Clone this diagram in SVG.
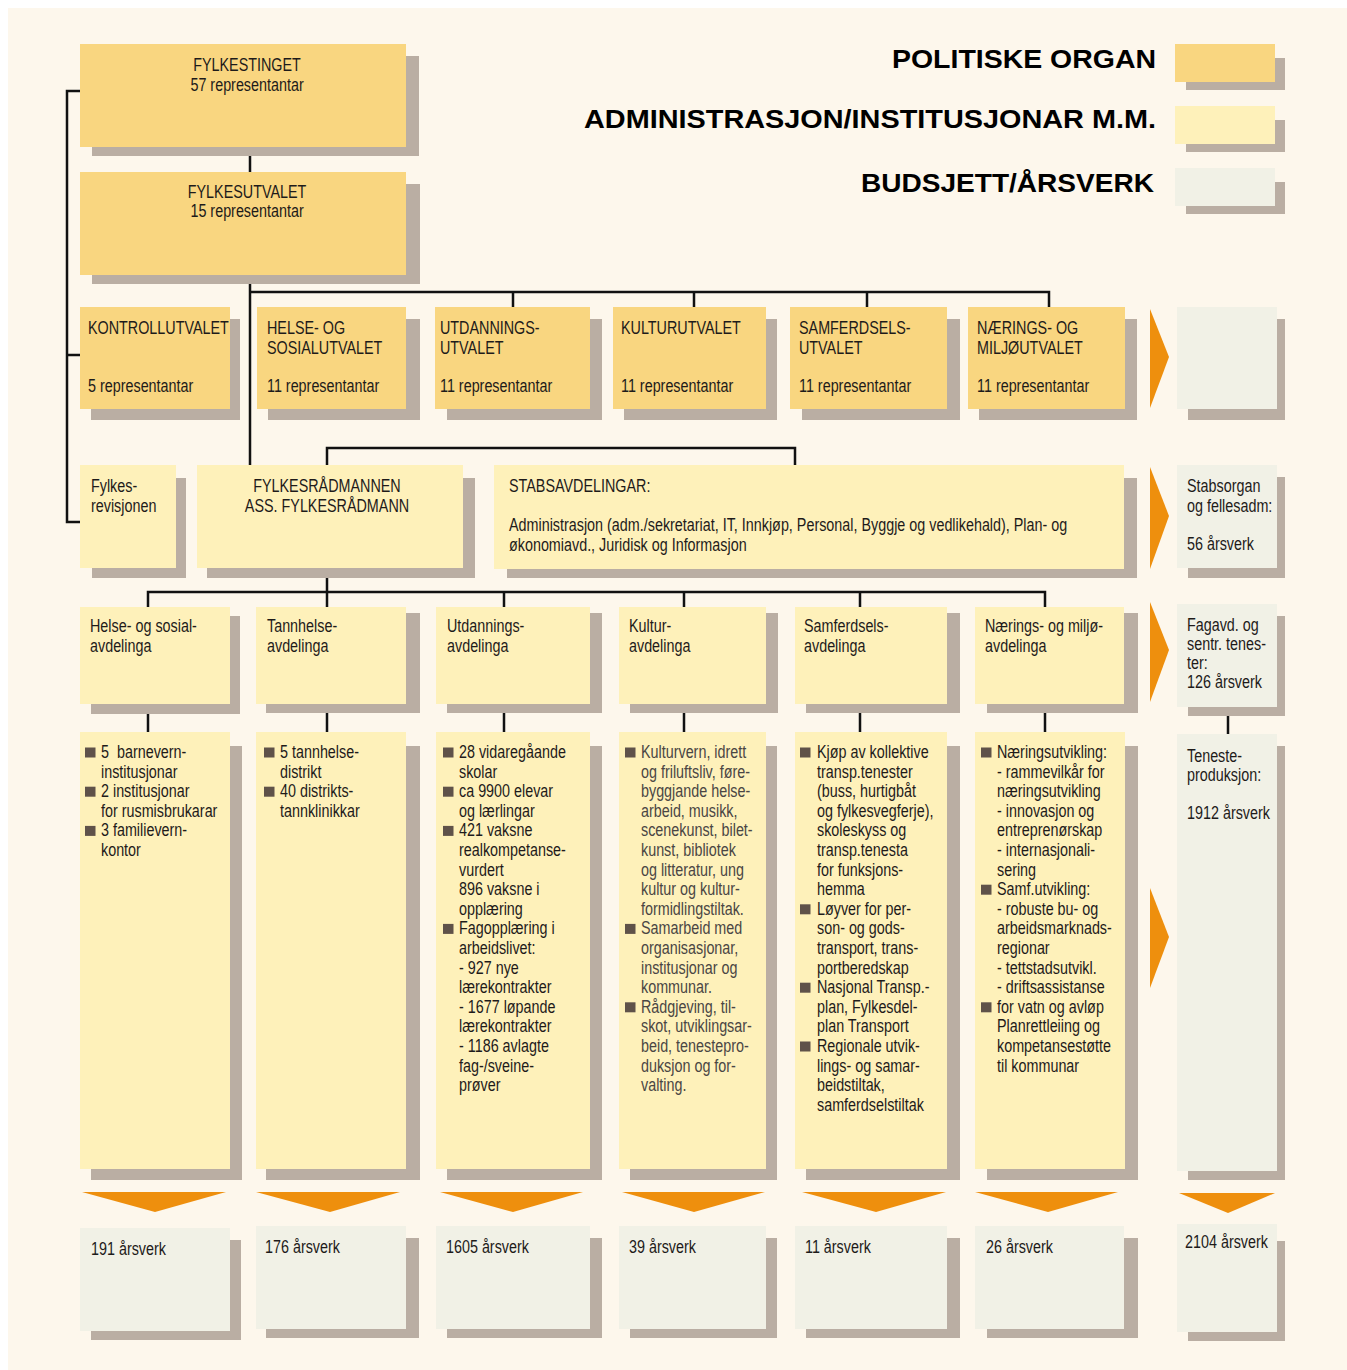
<svg xmlns="http://www.w3.org/2000/svg" width="1347" height="1370" viewBox="0 0 1347 1370">
<defs>
<style>
.bg{fill:#FDF7EC}
.sh{fill:#BAAEA3}
.pol{fill:#F9D680}
.adm{fill:#FEF1BA}
.bud{fill:#F1F1E6}
.arr{fill:#EE8F0D}
.bul{fill:#5F5249}
.ln{fill:none;stroke:#111;stroke-width:2.5}
text{font-family:'Liberation Sans',Arial,sans-serif;font-size:17.5px;fill:#1E1B1A;transform:scaleX(0.82);transform-box:fill-box;transform-origin:left center}
.c{text-anchor:middle;transform-origin:center center}
.g{fill:#4A4644}
.leg{font-family:'Liberation Sans',Arial,sans-serif;font-weight:bold;font-size:26px;fill:#000;transform:none}
</style>
</defs>
<rect x="0" y="0" width="1347" height="1370" fill="#FFFFFF"/>
<rect class="bg" x="8" y="8" width="1339" height="1362"/>

<g id="legend">
<text class="leg" x="892" y="68" textLength="264" lengthAdjust="spacingAndGlyphs">POLITISKE ORGAN</text>
<text class="leg" x="584" y="128" textLength="572" lengthAdjust="spacingAndGlyphs">ADMINISTRASJON/INSTITUSJONAR M.M.</text>
<text class="leg" x="861" y="192" textLength="293" lengthAdjust="spacingAndGlyphs">BUDSJETT/ÅRSVERK</text>
<rect class="sh" x="1186" y="58" width="99" height="32"/>
<rect class="pol" x="1175" y="44" width="100" height="38"/>
<rect class="sh" x="1186" y="120" width="99" height="32"/>
<rect class="adm" x="1175" y="106" width="100" height="38"/>
<rect class="sh" x="1186" y="182" width="99" height="32"/>
<rect class="bud" x="1175" y="168" width="100" height="38"/>
</g>

<g id="connectors">
<path class="ln" d="M80,91 H67 V522 H80 M67,355 H80"/>
<path class="ln" d="M250,147 V172 M250,275 V465"/>
<path class="ln" d="M250,292 H1049 V307 M513,292 V307 M694,292 V307 M867,292 V307"/>
<path class="ln" d="M327,465 V448 H795 V465"/>
<path class="ln" d="M327,568 V607 M148,607 V592 H1045 V607 M504,592 V607 M684,592 V607 M860,592 V607"/>
<path class="ln" d="M148,704 V732 M327,704 V732 M504,704 V732 M684,704 V732 M860,704 V732 M1045,704 V732 M1228,707 V734"/>
</g>

<g id="fylkestinget">
<rect class="sh" x="92" y="56" width="327" height="100"/>
<rect class="pol" x="80" y="44" width="326" height="103"/>
<text class="c" x="247" y="71">FYLKESTINGET</text>
<text class="c" x="247" y="91">57 representantar</text>
</g>
<g id="fylkesutvalet">
<rect class="sh" x="92" y="184" width="328" height="100"/>
<rect class="pol" x="80" y="172" width="326" height="103"/>
<text class="c" x="247" y="198">FYLKESUTVALET</text>
<text class="c" x="247" y="217">15 representantar</text>
</g>

<g id="kontrollutvalet">
<rect class="sh" x="91" y="319" width="149" height="101"/>
<rect class="pol" x="80" y="307" width="150" height="102"/>
<text x="88" y="334">KONTROLLUTVALET</text>
<text x="88" y="392">5 representantar</text>
</g>
<g id="helseutvalet">
<rect class="sh" x="268" y="319" width="152" height="101"/>
<rect class="pol" x="257" y="307" width="149" height="102"/>
<text x="267" y="334">HELSE- OG</text>
<text x="267" y="354">SOSIALUTVALET</text>
<text x="267" y="392">11 representantar</text>
</g>
<g id="utdanningsutvalet">
<rect class="sh" x="447" y="319" width="155" height="101"/>
<rect class="pol" x="435" y="307" width="155" height="102"/>
<text x="440" y="334">UTDANNINGS-</text>
<text x="440" y="354">UTVALET</text>
<text x="440" y="392">11 representantar</text>
</g>
<g id="kulturutvalet">
<rect class="sh" x="624" y="319" width="153" height="101"/>
<rect class="pol" x="613" y="307" width="153" height="102"/>
<text x="621" y="334">KULTURUTVALET</text>
<text x="621" y="392">11 representantar</text>
</g>
<g id="samferdselsutvalet">
<rect class="sh" x="802" y="319" width="158" height="101"/>
<rect class="pol" x="790" y="307" width="157" height="102"/>
<text x="799" y="334">SAMFERDSELS-</text>
<text x="799" y="354">UTVALET</text>
<text x="799" y="392">11 representantar</text>
</g>
<g id="naeringsutvalet">
<rect class="sh" x="979" y="319" width="158" height="101"/>
<rect class="pol" x="968" y="307" width="157" height="102"/>
<text x="977" y="334">NÆRINGS- OG</text>
<text x="977" y="354">MILJØUTVALET</text>
<text x="977" y="392">11 representantar</text>
</g>
<g id="budsjett-politisk">
<rect class="sh" x="1188" y="319" width="97" height="101"/>
<rect class="bud" x="1177" y="307" width="100" height="102"/>
</g>

<g id="fylkesrevisjonen">
<rect class="sh" x="92" y="478" width="94" height="100"/>
<rect class="adm" x="80" y="465" width="96" height="103"/>
<text x="91" y="492">Fylkes-</text>
<text x="91" y="512">revisjonen</text>
</g>
<g id="fylkesradmannen">
<rect class="sh" x="207" y="478" width="268" height="100"/>
<rect class="adm" x="197" y="465" width="266" height="103"/>
<text class="c" x="327" y="492">FYLKESRÅDMANNEN</text>
<text class="c" x="327" y="512">ASS. FYLKESRÅDMANN</text>
</g>
<g id="stabsavdelingar">
<rect class="sh" x="507" y="478" width="630" height="100"/>
<rect class="adm" x="494" y="465" width="630" height="104"/>
<text x="509" y="492">STABSAVDELINGAR:</text>
<text x="509" y="531">Administrasjon (adm./sekretariat, IT, Innkjøp, Personal, Byggje og vedlikehald), Plan- og</text>
<text x="509" y="551">økonomiavd., Juridisk og Informasjon</text>
</g>
<g id="stabsorgan">
<rect class="sh" x="1188" y="477" width="97" height="101"/>
<rect class="bud" x="1177" y="465" width="100" height="103"/>
<text x="1187" y="492">Stabsorgan</text>
<text x="1187" y="512">og fellesadm:</text>
<text x="1187" y="550">56 årsverk</text>
</g>

<g id="dept-helse">
<rect class="sh" x="91" y="616" width="149" height="98"/>
<rect class="adm" x="80" y="607" width="150" height="97"/>
<text x="90" y="632">Helse- og sosial-</text>
<text x="90" y="652">avdelinga</text>
</g>
<g id="dept-tannhelse">
<rect class="sh" x="266" y="613" width="154" height="100"/>
<rect class="adm" x="256" y="607" width="150" height="97"/>
<text x="267" y="632">Tannhelse-</text>
<text x="267" y="652">avdelinga</text>
</g>
<g id="dept-utdanning">
<rect class="sh" x="447" y="613" width="155" height="100"/>
<rect class="adm" x="436" y="607" width="154" height="97"/>
<text x="447" y="632">Utdannings-</text>
<text x="447" y="652">avdelinga</text>
</g>
<g id="dept-kultur">
<rect class="sh" x="630" y="613" width="148" height="100"/>
<rect class="adm" x="619" y="607" width="147" height="97"/>
<text x="629" y="632">Kultur-</text>
<text x="629" y="652">avdelinga</text>
</g>
<g id="dept-samferdsel">
<rect class="sh" x="806" y="613" width="154" height="100"/>
<rect class="adm" x="795" y="607" width="152" height="97"/>
<text x="804" y="632">Samferdsels-</text>
<text x="804" y="652">avdelinga</text>
</g>
<g id="dept-naering">
<rect class="sh" x="987" y="613" width="151" height="100"/>
<rect class="adm" x="975" y="607" width="149" height="97"/>
<text x="985" y="632">Nærings- og miljø-</text>
<text x="985" y="652">avdelinga</text>
</g>
<g id="fagavd">
<rect class="sh" x="1188" y="616" width="97" height="100"/>
<rect class="bud" x="1177" y="604" width="100" height="103"/>
<text x="1187" y="631">Fagavd. og</text>
<text x="1187" y="650">sentr. tenes-</text>
<text x="1187" y="669">ter:</text>
<text x="1187" y="688">126 årsverk</text>
</g>

<g id="detail-helse">
<rect class="sh" x="91" y="746" width="151" height="434"/>
<rect class="adm" x="80" y="732" width="150" height="437"/>
<rect class="bul" x="85" y="747.5" width="10.5" height="10"/>
<rect class="bul" x="85" y="786.7" width="10.5" height="10"/>
<rect class="bul" x="85" y="825.9" width="10.5" height="10"/>
<text x="101" y="758">5&#160; barnevern-<tspan x="101" y="777.6">institusjonar</tspan><tspan x="101" y="797.2">2 institusjonar</tspan><tspan x="101" y="816.8">for rusmisbrukarar</tspan><tspan x="101" y="836.4">3 familievern-</tspan><tspan x="101" y="856">kontor</tspan></text>
</g>
<g id="detail-tannhelse">
<rect class="sh" x="266" y="746" width="154" height="434"/>
<rect class="adm" x="256" y="732" width="150" height="437"/>
<rect class="bul" x="264" y="747.5" width="10.5" height="10"/>
<rect class="bul" x="264" y="786.7" width="10.5" height="10"/>
<text x="280" y="758">5 tannhelse-<tspan x="280" y="777.6">distrikt</tspan><tspan x="280" y="797.2">40 distrikts-</tspan><tspan x="280" y="816.8">tannklinikkar</tspan></text>
</g>
<g id="detail-utdanning">
<rect class="sh" x="447" y="746" width="155" height="434"/>
<rect class="adm" x="436" y="732" width="154" height="437"/>
<rect class="bul" x="443" y="747.5" width="10.5" height="10"/>
<rect class="bul" x="443" y="786.7" width="10.5" height="10"/>
<rect class="bul" x="443" y="825.9" width="10.5" height="10"/>
<rect class="bul" x="443" y="923.9" width="10.5" height="10"/>
<text x="459" y="758">28 vidaregåande<tspan x="459" y="777.6">skolar</tspan><tspan x="459" y="797.2">ca 9900 elevar</tspan><tspan x="459" y="816.8">og lærlingar</tspan><tspan x="459" y="836.4">421 vaksne</tspan><tspan x="459" y="856">realkompetanse-</tspan><tspan x="459" y="875.6">vurdert</tspan><tspan x="459" y="895.2">896 vaksne i</tspan><tspan x="459" y="914.8">opplæring</tspan><tspan x="459" y="934.4">Fagopplæring i</tspan><tspan x="459" y="954">arbeidslivet:</tspan><tspan x="459" y="973.6">- 927 nye</tspan><tspan x="459" y="993.2">lærekontrakter</tspan><tspan x="459" y="1012.8">- 1677 løpande</tspan><tspan x="459" y="1032.4">lærekontrakter</tspan><tspan x="459" y="1052">- 1186 avlagte</tspan><tspan x="459" y="1071.6">fag-/sveine-</tspan><tspan x="459" y="1091.2">prøver</tspan></text>
</g>
<g id="detail-kultur">
<rect class="sh" x="630" y="746" width="147" height="434"/>
<rect class="adm" x="619" y="732" width="147" height="437"/>
<rect class="bul" x="625" y="747.5" width="10.5" height="10"/>
<rect class="bul" x="625" y="923.9" width="10.5" height="10"/>
<rect class="bul" x="625" y="1002.3" width="10.5" height="10"/>
<text class="g" x="641" y="758">Kulturvern, idrett<tspan x="641" y="777.6">og friluftsliv, føre-</tspan><tspan x="641" y="797.2">byggjande helse-</tspan><tspan x="641" y="816.8">arbeid, musikk,</tspan><tspan x="641" y="836.4">scenekunst, bilet-</tspan><tspan x="641" y="856">kunst, bibliotek</tspan><tspan x="641" y="875.6">og litteratur, ung</tspan><tspan x="641" y="895.2">kultur og kultur-</tspan><tspan x="641" y="914.8">formidlingstiltak.</tspan><tspan x="641" y="934.4">Samarbeid med</tspan><tspan x="641" y="954">organisasjonar,</tspan><tspan x="641" y="973.6">institusjonar og</tspan><tspan x="641" y="993.2">kommunar.</tspan><tspan x="641" y="1012.8">Rådgjeving, til-</tspan><tspan x="641" y="1032.4">skot, utviklingsar-</tspan><tspan x="641" y="1052">beid, tenestepro-</tspan><tspan x="641" y="1071.6">duksjon og for-</tspan><tspan x="641" y="1091.2">valting.</tspan></text>
</g>
<g id="detail-samferdsel">
<rect class="sh" x="806" y="746" width="154" height="434"/>
<rect class="adm" x="795" y="732" width="152" height="437"/>
<rect class="bul" x="800" y="747.5" width="10.5" height="10"/>
<rect class="bul" x="800" y="904.3" width="10.5" height="10"/>
<rect class="bul" x="800" y="982.7" width="10.5" height="10"/>
<rect class="bul" x="800" y="1041.5" width="10.5" height="10"/>
<text x="817" y="758">Kjøp av kollektive<tspan x="817" y="777.6">transp.tenester</tspan><tspan x="817" y="797.2">(buss, hurtigbåt</tspan><tspan x="817" y="816.8">og fylkesvegferje),</tspan><tspan x="817" y="836.4">skoleskyss og</tspan><tspan x="817" y="856">transp.tenesta</tspan><tspan x="817" y="875.6">for funksjons-</tspan><tspan x="817" y="895.2">hemma</tspan><tspan x="817" y="914.8">Løyver for per-</tspan><tspan x="817" y="934.4">son- og gods-</tspan><tspan x="817" y="954">transport, trans-</tspan><tspan x="817" y="973.6">portberedskap</tspan><tspan x="817" y="993.2">Nasjonal Transp.-</tspan><tspan x="817" y="1012.8">plan, Fylkesdel-</tspan><tspan x="817" y="1032.4">plan Transport</tspan><tspan x="817" y="1052">Regionale utvik-</tspan><tspan x="817" y="1071.6">lings- og samar-</tspan><tspan x="817" y="1091.2">beidstiltak,</tspan><tspan x="817" y="1110.8">samferdselstiltak</tspan></text>
</g>
<g id="detail-naering">
<rect class="sh" x="987" y="746" width="151" height="434"/>
<rect class="adm" x="975" y="732" width="150" height="437"/>
<rect class="bul" x="981" y="747.5" width="10.5" height="10"/>
<rect class="bul" x="981" y="884.7" width="10.5" height="10"/>
<rect class="bul" x="981" y="1002.3" width="10.5" height="10"/>
<text x="997" y="758">Næringsutvikling:<tspan x="997" y="777.6">- rammevilkår for</tspan><tspan x="997" y="797.2">næringsutvikling</tspan><tspan x="997" y="816.8">- innovasjon og</tspan><tspan x="997" y="836.4">entreprenørskap</tspan><tspan x="997" y="856">- internasjonali-</tspan><tspan x="997" y="875.6">sering</tspan><tspan x="997" y="895.2">Samf.utvikling:</tspan><tspan x="997" y="914.8">- robuste bu- og</tspan><tspan x="997" y="934.4">arbeidsmarknads-</tspan><tspan x="997" y="954">regionar</tspan><tspan x="997" y="973.6">- tettstadsutvikl.</tspan><tspan x="997" y="993.2">- driftsassistanse</tspan><tspan x="997" y="1012.8">for vatn og avløp</tspan><tspan x="997" y="1032.4">Planrettleiing og</tspan><tspan x="997" y="1052">kompetansestøtte</tspan><tspan x="997" y="1071.6">til kommunar</tspan></text>
</g>
<g id="tenesteproduksjon">
<rect class="sh" x="1188" y="746" width="97" height="434"/>
<rect class="bud" x="1177" y="734" width="100" height="437"/>
<text x="1187" y="762">Teneste-</text>
<text x="1187" y="781">produksjon:</text>
<text x="1187" y="819">1912 årsverk</text>
</g>

<g id="arrows">
<polygon class="arr" points="1150,309 1169,357 1150,408"/>
<polygon class="arr" points="1150,467 1169,516 1150,569"/>
<polygon class="arr" points="1150,602 1169,650 1150,702"/>
<polygon class="arr" points="1150,888 1169,937 1150,988"/>
<polygon class="arr" points="82,1192 226,1192 155,1212"/>
<polygon class="arr" points="256,1192 400,1192 330,1212"/>
<polygon class="arr" points="440,1192 583,1192 513,1212"/>
<polygon class="arr" points="622,1192 765,1192 694,1212"/>
<polygon class="arr" points="802,1192 946,1192 876,1212"/>
<polygon class="arr" points="975,1192 1118,1192 1048,1212"/>
<polygon class="arr" points="1179,1193 1275,1193 1228,1213"/>
</g>

<g id="budget-helse">
<rect class="sh" x="91" y="1240" width="150" height="100"/>
<rect class="bud" x="80" y="1228" width="150" height="103"/>
<text x="91" y="1255">191 årsverk</text>
</g>
<g id="budget-tannhelse">
<rect class="sh" x="266" y="1238" width="153" height="100"/>
<rect class="bud" x="256" y="1226" width="150" height="103"/>
<text x="265" y="1253">176 årsverk</text>
</g>
<g id="budget-utdanning">
<rect class="sh" x="447" y="1238" width="155" height="100"/>
<rect class="bud" x="436" y="1226" width="154" height="103"/>
<text x="446" y="1253">1605 årsverk</text>
</g>
<g id="budget-kultur">
<rect class="sh" x="630" y="1238" width="147" height="100"/>
<rect class="bud" x="619" y="1226" width="147" height="103"/>
<text x="629" y="1253">39 årsverk</text>
</g>
<g id="budget-samferdsel">
<rect class="sh" x="806" y="1238" width="154" height="100"/>
<rect class="bud" x="795" y="1226" width="152" height="103"/>
<text x="805" y="1253">11 årsverk</text>
</g>
<g id="budget-naering">
<rect class="sh" x="987" y="1238" width="151" height="100"/>
<rect class="bud" x="975" y="1226" width="149" height="103"/>
<text x="986" y="1253">26 årsverk</text>
</g>
<g id="budget-total">
<rect class="sh" x="1188" y="1241" width="97" height="100"/>
<rect class="bud" x="1177" y="1224" width="100" height="108"/>
<text x="1185" y="1248">2104 årsverk</text>
</g>
</svg>
